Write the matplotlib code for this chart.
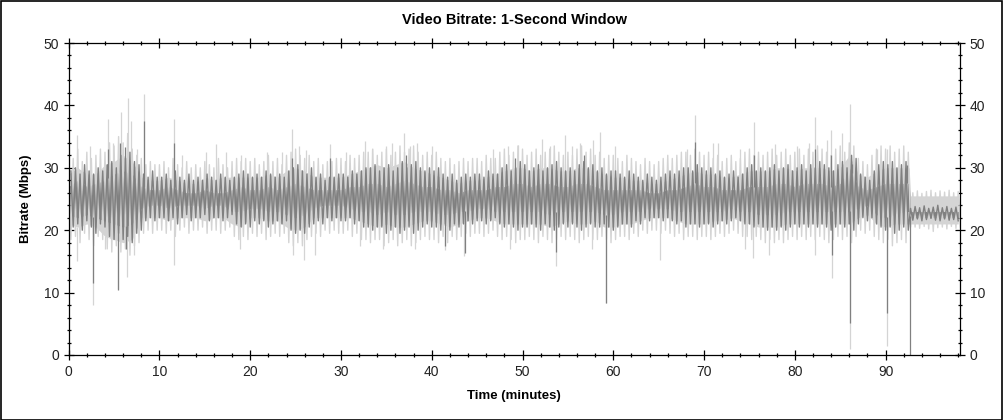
import numpy as np
import matplotlib.pyplot as plt
from matplotlib.patches import Rectangle
from matplotlib.ticker import MultipleLocator

plt.rcParams['font.family'] = ['Liberation Sans', 'DejaVu Sans']

# time axis (minutes); the bitrate drops to a flat band at ~92.7 min
minutes = list(range(93)) + [92.6, 92.75] + list(range(93, 99))

# solid core of the dark trace (1-second window), Mbps
dark_hi = [27, 28, 27, 27.5, 28, 29, 29.5, 29, 27, 26.5,
           26.5, 27, 26.5, 26, 26, 26.5, 26, 26, 26.5, 27,
           26.5, 26.5, 27, 26.5, 27, 27.5, 27, 26.5, 26.5, 26.5,
           26.5, 27, 27, 27.5, 27.5, 27, 27.5, 28, 27.5, 27,
           27, 26.5, 26.5, 26, 26.5, 26.5, 26.5, 27, 27, 27.5,
           27.5, 27, 27.5, 27.5, 27, 27, 27.5, 27.5, 27, 26.5,
           26.5, 26.5, 26.5, 26.5, 26, 26, 26.5, 26.5, 27, 27.5,
           27, 27, 26.5, 26.5, 26.5, 27, 27, 27, 27.5, 27.5,
           27, 27.5, 27.5, 27.5, 27, 27.5, 30, 27, 26.5, 27,
           27.5, 27.5, 27.5, 27.5, 23, 23, 23, 23, 23, 23, 23]
dark_lo = [22.5, 22, 22.5, 22, 21.5, 21, 20.5, 21, 23.5, 24,
           24, 23.5, 24, 24, 24, 23.5, 24, 24, 23, 23,
           23.5, 23.5, 23, 23, 22.5, 22, 22.5, 23.5, 24, 24,
           24, 23.5, 23, 23, 22.5, 23, 22.5, 22.5, 23, 23,
           23, 22.5, 22.5, 23, 23, 23.5, 23.5, 23, 23, 23,
           23, 23, 23, 22.5, 23, 23, 23, 23, 23, 22.5,
           22.5, 23, 23, 23, 23.5, 23.5, 23.5, 23, 23, 23,
           23, 23, 23, 23.5, 23, 23, 22.5, 22.5, 22.5, 23,
           23, 23, 23, 23, 23, 23, 23, 23.5, 24, 22.5,
           22, 22.5, 23, 23, 22, 22, 22, 22, 22, 22, 22]

# solid core of the light trace, Mbps
light_hi = [29, 30, 29, 29, 30.5, 31, 32, 31, 28.5, 28,
            28, 28.5, 28, 27.5, 27.5, 28.5, 28, 28.5, 28.5, 28.5,
            28.5, 28.5, 29, 28.5, 29.5, 30, 29.5, 28.5, 28.5, 28.5,
            28.5, 29, 29.5, 30, 30.5, 30, 30.5, 31, 30, 29.5,
            29, 28.5, 28, 27.5, 28, 28, 28.5, 29, 29.5, 30,
            30, 29.5, 30, 30, 29.5, 29.5, 30, 30, 29.5, 29,
            28.5, 28.5, 28, 28, 27.5, 27.5, 28, 28.5, 29, 29.5,
            29, 29, 28.5, 28.5, 29, 29.5, 29.5, 29.5, 30, 30,
            29.5, 30, 30, 30, 29.5, 30, 32, 29, 28.5, 29.5,
            30, 30, 30, 30, 25.5, 25.5, 25.5, 25.5, 25.5, 25.5, 25.5]
light_lo = [21, 20.5, 21, 20.5, 19, 18.5, 18, 18.5, 22, 22,
            22, 21.5, 22, 22, 22, 21.5, 22, 22, 21, 20.5,
            22, 22, 21.5, 21.5, 20.5, 20, 20.5, 22, 22, 22,
            22, 22, 21.5, 21, 20.5, 21, 20.5, 20.5, 21, 21.5,
            21.5, 21, 20.5, 21, 21.5, 22, 22, 21.5, 21, 21,
            21, 21, 21, 20.5, 21, 21.5, 21, 21, 21.5, 20.5,
            20.5, 21, 21, 21.5, 22, 22, 22, 21.5, 21, 21,
            21, 21.5, 21.5, 22, 21.5, 21, 20.5, 20.5, 20.5, 21,
            21, 21, 21, 21, 21, 21, 21, 22, 22.5, 21,
            20.5, 21, 21, 21, 21, 21, 21, 21, 21, 21, 21]

# dark trace swings: peaks every 30 s from 0.25 min, dips every 30 s from 0.5 min
dark_peak = [29.5, 30, 29, 30.5, 29.5, 29, 30, 29.5, 30.5, 31, 30, 32, 31.5, 32.5, 31, 30.5, 29, 28.5, 29.5, 28.5,
             28.5, 29, 28, 29.5, 28.5, 28, 29, 28, 28.5, 28, 29, 28.5, 28, 29, 28.5, 28, 28.5, 29, 29.5, 29,
             28.5, 29, 28.5, 29.5, 29, 28.5, 29, 28.5, 29.5, 30, 30.5, 29.5, 29, 30, 28.5, 29, 28, 28.5, 28.5, 29,
             29, 28.5, 29.5, 29, 29.5, 30, 30, 30.5, 29.5, 30, 30.5, 29.5, 30, 31, 30, 30.5, 31, 30, 29.5, 30,
             29.5, 30, 29, 28.5, 29, 28, 28.5, 29, 28.5, 29, 29, 28.5, 29.5, 29, 29, 30, 30.5, 29.5, 30, 31,
             30.5, 29.5, 30, 30.5, 29.5, 30, 30.5, 31, 30, 29.5, 30, 29.5, 30.5, 31, 30, 30.5, 29.5, 30, 29, 29.5,
             29.5, 29, 28.5, 29.5, 29, 28.5, 28, 29, 28.5, 28, 28.5, 29, 29.5, 29, 29.5, 30, 30, 29.5, 30.5, 30,
             29.5, 30, 29, 29.5, 28.5, 29, 29.5, 28.5, 29, 30, 30.5, 29.5, 30, 29.5, 30, 30.5, 29.5, 30, 30.5, 29.5,
             30, 30.5, 29.5, 30.5, 30, 31, 30.5, 30, 29.5, 30.5, 31, 30, 32, 31.5, 29, 28.5, 28, 29.5, 30.5, 31,
             30.5, 31, 30, 30.5, 31,
             23.5, 23.8, 23.6, 23.9, 23.5, 23.7, 24, 23.6, 23.8, 23.5, 23.7]
dark_dip = [20.5, 21, 20, 21.5, 20.5, 19.5, 21, 20.5, 19, 18.5, 19.5, 18.5, 19, 18, 19.5, 20, 21.5, 22, 21.5, 22,
            22, 21.5, 22, 21, 22, 22.5, 21.5, 22, 22, 22.5, 21.5, 22, 22, 21.5, 22, 22.5, 21, 20.5, 21, 20.5,
            21.5, 21, 21.5, 20.5, 21, 21.5, 21, 21.5, 20, 19.5, 20, 19.5, 20.5, 21, 21.5, 21, 22, 21.5, 22, 21.5,
            21.5, 22, 21, 21.5, 20.5, 20.5, 20, 20.5, 20.5, 19.5, 20, 20.5, 19.5, 20, 20.5, 19.5, 20, 20.5, 21, 20.5,
            20.5, 20, 21, 20, 21, 20.5, 21, 21.5, 21, 21.5, 21.5, 21, 21.5, 22, 21, 20.5, 21, 20.5, 20, 20.5,
            20.5, 21, 20.5, 20, 21, 20.5, 20, 20.5, 21, 20.5, 21, 20.5, 20, 20.5, 21, 20.5, 20.5, 21, 20.5, 20,
            20.5, 21, 21, 20.5, 21.5, 21, 22, 21.5, 22, 22, 21.5, 22, 21.5, 21, 21.5, 20.5, 21, 21, 20.5, 21,
            21, 20.5, 21, 21.5, 21, 21.5, 22, 21.5, 21, 21, 20.5, 21, 20.5, 20, 20.5, 20, 20.5, 20, 20.5, 21,
            20.5, 21, 20.5, 21, 20.5, 21, 20.5, 20, 20.5, 21, 20.5, 21, 20, 21, 22, 21.5, 22, 21, 20.5, 20,
            20.5, 19.5, 20, 20.5, 20,
            21.6, 21.8, 21.5, 21.7, 21.9, 21.6, 21.5, 21.8, 21.6, 21.7, 21.5]

# light trace swings: peaks every 30 s from 0 min, dips every 30 s from 0.25 min
light_peak = [32, 31.5, 33, 31, 32.5, 31.5, 32, 33, 32.5, 34, 33.5, 35, 34, 35.5, 33, 32, 31.5, 30.5, 31, 30.5,
              30.5, 31, 30, 31.5, 30.5, 30, 31, 30, 30.5, 30, 31, 30.5, 30, 31.5, 30.5, 30, 31, 31.5, 31, 31.5,
              31, 31.5, 30.5, 31, 32, 31, 31.5, 30.5, 32, 32.5, 33, 32, 31.5, 32, 31, 31.5, 30.5, 31, 31, 31.5,
              31.5, 31, 32, 31.5, 32, 32.5, 32.5, 33, 32, 32.5, 33, 32, 32.5, 33.5, 32.5, 33, 33.5, 32.5, 32, 32.5,
              32, 32.5, 31.5, 31, 31.5, 30.5, 31, 31.5, 31, 31.5, 31.5, 31, 32, 31.5, 31.5, 32.5, 33, 32, 32.5, 33.5,
              33, 32, 32.5, 33, 32, 32.5, 33, 33.5, 32.5, 32, 32.5, 32, 33, 33.5, 32.5, 33, 32, 32.5, 31.5, 32,
              32, 31.5, 31, 32, 31.5, 31, 30.5, 31.5, 31, 30.5, 31, 31.5, 32, 31.5, 32, 32.5, 32.5, 32, 33, 32.5,
              32, 32.5, 31.5, 32, 31, 31.5, 32, 31, 31.5, 32.5, 33, 32, 32.5, 32, 32.5, 33, 32, 32.5, 33, 32,
              32.5, 33, 32, 33, 32.5, 33.5, 33, 32.5, 32, 33, 33.5, 32.5, 34, 33.5, 31.5, 31, 30.5, 32, 33, 33.5,
              33, 33.5, 32.5, 33, 33.5, 32.5,
              26, 26.3, 25.9, 26.2, 26.4, 26, 26.3, 26.1, 26.4, 26, 26.2]
light_dip = [18.5, 19, 18, 19.5, 18.5, 17.5, 19, 18.5, 17, 16.5, 17.5, 16.5, 17, 16, 17.5, 18, 19.5, 20, 19.5, 20,
             20, 19.5, 20, 19, 20, 20.5, 19.5, 20, 20, 20.5, 19.5, 20, 20, 19.5, 20, 20.5, 19, 18.5, 19, 18.5,
             19.5, 19, 19.5, 18.5, 19, 19.5, 19, 19.5, 18, 17.5, 18, 17.5, 18.5, 19, 19.5, 19, 20, 19.5, 20, 19.5,
             19.5, 20, 19, 19.5, 18.5, 18.5, 18, 18.5, 18.5, 17.5, 18, 18.5, 17.5, 18, 18.5, 17.5, 18, 18.5, 19, 18.5,
             18.5, 18, 19, 18, 19, 18.5, 19, 19.5, 19, 19.5, 19.5, 19, 19.5, 20, 19, 18.5, 19, 18.5, 18, 18.5,
             18.5, 19, 18.5, 18, 19, 18.5, 18, 18.5, 19, 18.5, 19, 18.5, 18, 18.5, 19, 18.5, 18.5, 19, 18.5, 18,
             18.5, 19, 19, 18.5, 19.5, 19, 20, 19.5, 20, 20, 19.5, 20, 19.5, 19, 19.5, 18.5, 19, 19, 18.5, 19,
             19, 18.5, 19, 19.5, 19, 19.5, 20, 19.5, 19, 19, 18.5, 19, 18.5, 18, 18.5, 18, 18.5, 18, 18.5, 19,
             18.5, 19, 18.5, 19, 18.5, 19, 18.5, 18, 18.5, 19, 18.5, 19, 18, 19, 20, 19.5, 20, 19, 18.5, 18,
             18.5, 17.5, 18, 18.5, 18,
             20.5, 20.5, 20.3, 20.6, 20.2, 19.8, 20.4, 20.5, 20.2, 20.6, 20.3, 20.5]

# isolated tall peaks and deep dips (minute, Mbps)
light_up = [(0.9, 35.2), (2.3, 33.5), (4.3, 37.9), (4.9, 34), (5.8, 38.9), (6.5, 41.2),
            (6.85, 37.5), (7.5, 33), (8.3, 41.8), (11.6, 37.9), (12.5, 32), (15.1, 32.5),
            (16.2, 33.8), (17.3, 32.5), (19.0, 32), (21.9, 32.5), (23.5, 32.5), (24.6, 36.2),
            (25.4, 33.5), (26.1, 32.8), (28.8, 33.8), (30.5, 32.5), (32.6, 34.3), (33.4, 33),
            (35.0, 33.5), (35.6, 34), (36.9, 35.6), (37.6, 33.5), (38.4, 34), (40.0, 33.5),
            (46.7, 33), (48.4, 33.5), (49.5, 33.6), (52.2, 34.6), (53.0, 33.5), (54.7, 35.2),
            (55.5, 33.5), (56.3, 34), (57.8, 34.5), (58.5, 35.8), (60.2, 33.5), (68.1, 33),
            (69.0, 38.4), (71.0, 34), (71.5, 34), (74.0, 33), (75.5, 37.3), (77.8, 33.8),
            (80.2, 33.5), (81.6, 34), (82.2, 38.1), (83.5, 34.5), (84.0, 36), (85.2, 35.5),
            (86.1, 40.2), (89.0, 33), (90.2, 33)]
light_down = [(0.9, 15), (2.7, 8), (4.0, 17), (5.45, 10.5), (6.4, 12.5), (7.2, 16),
              (11.6, 14.5), (18.9, 17), (24.7, 16), (25.9, 15.2), (27.1, 16), (32.1, 17.4),
              (34.6, 17), (38.2, 17), (41.5, 16.8), (43.6, 15.8), (48.6, 17), (53.7, 14.2),
              (57.6, 17), (59.2, 8.3), (65.2, 15.3), (74.5, 17), (75.4, 15.6), (77.1, 16),
              (82.2, 16), (84.1, 12.3), (86.05, 1.0), (90.2, 1.5)]
dark_up = [(4.3, 33), (5.6, 34), (6.2, 33.4), (8.3, 37.5), (11.6, 33.9), (24.6, 31.5),
           (28.8, 31.5), (37.2, 32), (49.2, 31.5), (56.8, 32), (69.0, 34.1), (75.5, 32),
           (82.2, 33), (84.0, 32), (86.3, 30.6), (92.4, 30.5)]
dark_down = [(2.7, 11.5), (5.45, 10.4), (6.3, 17), (41.5, 17.5), (43.7, 16.3), (53.7, 16.5),
             (59.2, 8.3), (84.1, 16), (86.1, 5.1), (90.1, 6.7), (92.7, 0)]

light_col = '#d4d4d4'
dark_col = '#808080'

fig = plt.figure(figsize=(10.04, 4.2), dpi=100)
ax = fig.add_axes([0.0684, 0.1548, 0.8878, 0.7428])

t = np.array(minutes)


def swing(peaks, dips, t0_peak, t0_dip):
    # merge alternating peaks and dips into one time-ordered trace
    tp = t0_peak + 0.5 * np.arange(len(peaks))
    td = t0_dip + 0.5 * np.arange(len(dips))
    tt = np.concatenate([tp, td])
    vv = np.concatenate([peaks, dips])
    order = np.argsort(tt, kind='stable')
    return tt[order], vv[order]


def spikes(pts, edge, color, lw=0.9):
    x = np.array([p[0] for p in pts])
    v = np.array([p[1] for p in pts])
    ax.vlines(x, np.interp(x, t, edge), v, color=color, lw=lw)


# light trace
lt, lv = swing(light_peak, light_dip, 0.0, 0.25)
ax.fill_between(t, light_lo, light_hi, color=light_col, lw=0)
ax.plot(lt, lv, color=light_col, lw=1.0)
spikes(light_up, light_hi, light_col)
spikes(light_down, light_lo, light_col)

# dark trace
dt, dv = swing(dark_peak, dark_dip, 0.25, 0.5)
ax.fill_between(t, dark_lo, dark_hi, color=dark_col, lw=0)
ax.plot(dt, dv, color=dark_col, lw=1.0)
spikes(dark_up, dark_hi, dark_col)
spikes(dark_down, dark_lo, dark_col)

ax.set_xlim(0, 98.2)
ax.set_ylim(0, 50)
ax.xaxis.set_major_locator(MultipleLocator(10))
ax.xaxis.set_minor_locator(MultipleLocator(2))
ax.yaxis.set_major_locator(MultipleLocator(10))
ax.yaxis.set_minor_locator(MultipleLocator(2))
ax.tick_params(which='both', direction='inout', top=True, right=True,
               labelright=True, labelsize=10, labelcolor='#222222', width=0.9)
ax.tick_params(which='major', length=7)
ax.tick_params(which='minor', length=3.5)
for s in ax.spines.values():
    s.set_linewidth(0.9)

ax.set_title('Video Bitrate: 1-Second Window', fontsize=10.5, fontweight='bold', pad=14)
ax.set_xlabel('Time (minutes)', fontsize=9.5, fontweight='bold', labelpad=8)
ax.set_ylabel('Bitrate (Mbps)', fontsize=9.5, fontweight='bold', labelpad=8)

fig.patches.append(Rectangle((0.0005, 0.001), 0.998, 0.997, transform=fig.transFigure,
                             fill=False, edgecolor='black', lw=1.2))

fig.savefig('out.png', dpi=100)
